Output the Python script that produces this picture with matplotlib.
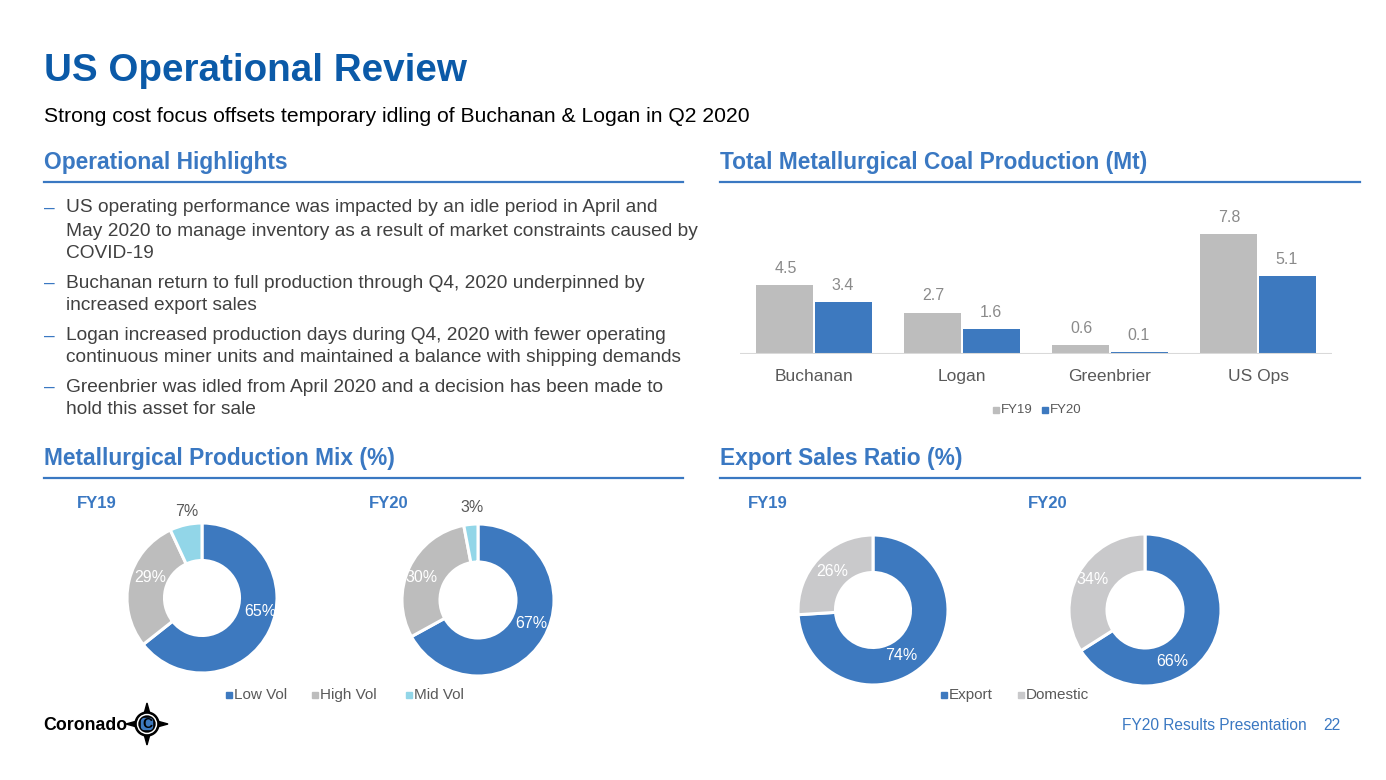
import numpy as np
import matplotlib.pyplot as plt
from matplotlib.patches import Circle, Polygon, FancyBboxPatch
from matplotlib.lines import Line2D

plt.rcParams['font.family'] = ['Liberation Sans', 'DejaVu Sans']

# datos
sites = ['Buchanan', 'Logan', 'Greenbrier', 'US Ops']
prod_fy19 = [4.5, 2.7, 0.6, 7.8]
prod_fy20 = [3.4, 1.6, 0.1, 5.1]

mix_labels = ['Low Vol', 'High Vol', 'Mid Vol']
mix_fy19 = [65, 29, 7]
mix_fy20 = [67, 30, 3]

export_labels = ['Export', 'Domestic']
export_fy19 = [74, 26]
export_fy20 = [66, 34]

bullets = [
    ['US operating performance was impacted by an idle period in April and',
     'May 2020 to manage inventory as a result of market constraints caused by',
     'COVID-19'],
    ['Buchanan return to full production through Q4, 2020 underpinned by',
     'increased export sales'],
    ['Logan increased production days during Q4, 2020 with fewer operating',
     'continuous miner units and maintained a balance with shipping demands'],
    ['Greenbrier was idled from April 2020 and a decision has been made to',
     'hold this asset for sale'],
]

W, H = 1386, 780
BLUE = '#3A78C2'
DARK_BLUE = '#0B5AA8'
BAR_BLUE = '#3D79BF'
GRAY = '#BDBDBD'
LGRAY = '#C9C9CB'
CYAN = '#92D6E8'
TXT = '#404040'

fig = plt.figure(figsize=(W / 100, H / 100), dpi=100)


def px_axes(x0, y0, x1, y1):
    return fig.add_axes([x0 / W, 1 - y1 / H, (x1 - x0) / W, (y1 - y0) / H])


def ftext(x, y, s, **kw):
    kw.setdefault('va', 'center')
    return fig.text(x / W, 1 - y / H, s, **kw)


def hline(x0, x1, y, color=BLUE, lw=1.6):
    fig.add_artist(Line2D([x0 / W, x1 / W], [1 - y / H, 1 - y / H], color=color, lw=lw))


# titulos
ftext(44, 71, 'US Operational Review', fontsize=27.8, fontweight='bold', color=DARK_BLUE)
ftext(44, 117, 'Strong cost focus offsets temporary idling of Buchanan & Logan in Q2 2020',
      fontsize=15.2, color='black')

for x0, x1, y, s in [(44, 683, 162, 'Operational Highlights'),
                     (720, 1360, 162, 'Total Metallurgical Coal Production (Mt)'),
                     (44, 683, 458, 'Metallurgical Production Mix (%)'),
                     (720, 1360, 458, 'Export Sales Ratio (%)')]:
    ftext(x0, y, s, fontsize=16.4, fontweight='bold', color=BLUE)
    hline(x0, x1, y + 20)

# bullets
ys = [[208, 231, 253], [283, 306], [336, 358], [387, 409]]
for lines, yy in zip(bullets, ys):
    ftext(44, yy[0], '–', fontsize=13.8, color=BLUE)
    for s, y in zip(lines, yy):
        ftext(66, y, s, fontsize=13.8, color=TXT)

# barras
ax = px_axes(740, 200, 1332, 354)
x = np.arange(len(sites))
bw = 57 / 148
ax.bar(x - bw / 2 - 0.007, prod_fy19, bw, color=GRAY, label='FY19')
ax.bar(x + bw / 2 + 0.007, prod_fy20, bw, color=BAR_BLUE, label='FY20')
for xi, v in zip(x, prod_fy19):
    ax.text(xi - bw / 2, v + 0.6, f'{v:.1f}', ha='center', va='bottom', fontsize=11.5, color='#8A8A8A')
for xi, v in zip(x, prod_fy20):
    ax.text(xi + bw / 2, v + 0.6, f'{v:.1f}', ha='center', va='bottom', fontsize=11.5, color='#8A8A8A')
ax.set_xlim(-0.5, 3.5)
ax.set_ylim(0, 154 / 15.33)
ax.axis('off')
ax.axhline(0, color='#D9D9D9', lw=1.5)
for xi, s in zip(x, sites):
    ax.text(xi, -1.45, s, ha='center', va='center', fontsize=12.5, color='#595959')


# leyendas
def legend_item(xs, y, s, color, fs=11):
    fig.add_artist(plt.Rectangle((xs / W, 1 - (y + 3) / H), 6 / W, 6 / H, color=color))
    ftext(xs + 8, y, s, fontsize=fs, color='#595959')


legend_item(993, 410, 'FY19', GRAY, fs=9.5)
legend_item(1042, 410, 'FY20', BAR_BLUE, fs=9.5)

for xs, s, c in zip([226, 312, 406], mix_labels, [BAR_BLUE, GRAY, CYAN]):
    legend_item(xs, 695, s, c)
for xs, s, c in zip([941, 1018], export_labels, [BAR_BLUE, LGRAY]):
    legend_item(xs, 695, s, c)


# donas
def donut(cx, cy, r, vals, colors, offsets, outside=()):
    ax = px_axes(cx - r, cy - r, cx + r, cy + r)
    ax.pie(vals, colors=colors, startangle=90, counterclock=False, radius=1,
           wedgeprops=dict(width=0.5, edgecolor='white', linewidth=2.2))
    ax.set_xlim(-1, 1)
    ax.set_ylim(-1, 1)
    ax.set_aspect('equal')
    ax.axis('off')
    for i, (v, (dx, dy)) in enumerate(zip(vals, offsets)):
        col = '#595959' if i in outside else 'white'
        ax.text(dx / r, -dy / r, f'{v}%', ha='center', va='center',
                fontsize=11.5, color=col, clip_on=False)


donut(202, 598, 75, mix_fy19, [BAR_BLUE, GRAY, CYAN], [(58, 13), (-52, -21), (-15, -86)], outside=(2,))
donut(478, 600, 76, mix_fy20, [BAR_BLUE, GRAY, CYAN], [(53, 24), (-56, -22), (-6, -92)], outside=(2,))
donut(873, 610, 75, export_fy19, [BAR_BLUE, LGRAY], [(28, 46), (-41, -38)])
donut(1145, 610, 76, export_fy20, [BAR_BLUE, LGRAY], [(27, 52), (-52, -31)])

for xx, s in [(77, 'FY19'), (369, 'FY20'), (748, 'FY19'), (1028, 'FY20')]:
    ftext(xx, 504, s, fontsize=12, fontweight='bold', color=BLUE)

# pie de pagina
ftext(1307, 726, 'FY20 Results Presentation', fontsize=11.2, color=BLUE, ha='right')
ftext(1341, 726, '22', fontsize=11.2, color=BLUE, ha='right')

# logo
ftext(43, 725, 'Coronado', fontsize=12.8, fontweight='bold', color='black')
lx, ly = 147, 724
lax = px_axes(lx - 22, ly - 22, lx + 22, ly + 22)
lax.set_xlim(-22, 22)
lax.set_ylim(-22, 22)
lax.axis('off')
for ang in [0, 90, 180, 270]:
    t = np.deg2rad(ang)
    tip = (21 * np.cos(t), 21 * np.sin(t))
    p1 = (8 * np.cos(t + 0.5), 8 * np.sin(t + 0.5))
    p2 = (8 * np.cos(t - 0.5), 8 * np.sin(t - 0.5))
    lax.add_patch(Polygon([tip, p1, p2], color='black'))
lax.add_patch(Circle((0, 0), 12, color='black'))
lax.add_patch(Circle((0, 0), 9.5, color='white'))
lax.add_patch(Circle((0, 0), 8, color='black'))
lax.add_patch(FancyBboxPatch((-5.5, -5.5), 11, 11, boxstyle='round,pad=0,rounding_size=3', color=BAR_BLUE))
lax.text(0, 0, 'C', ha='center', va='center', fontsize=10, fontweight='bold', color='black')

fig.savefig('out.png', dpi=100)
